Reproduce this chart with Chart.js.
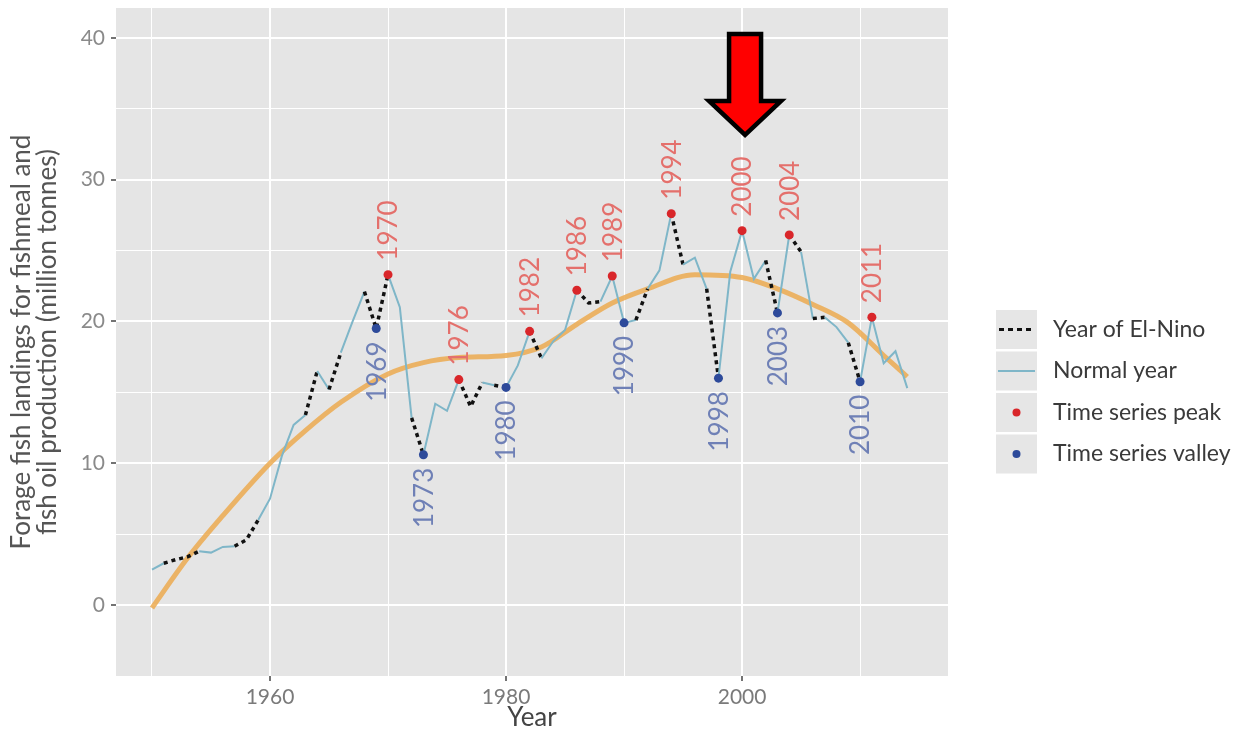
<!DOCTYPE html>
<html>
<head>
<meta charset="utf-8">
<script src="https://cdn.jsdelivr.net/npm/chart.js@4.4.1/dist/chart.umd.min.js"></script>
<style>
  html, body { margin: 0; padding: 0; background: #ffffff; }
  #wrap { width: 1244px; height: 733px; position: relative; }
</style>
</head>
<body>
<div id="wrap"><canvas id="c" width="1244" height="733"></canvas></div>
<script>
// Annual forage fish landings for fishmeal and fish oil (million tonnes)
const years = [
  1950, 1951, 1952, 1953, 1954, 1955, 1956, 1957, 1958, 1959,
  1960, 1961, 1962, 1963, 1964, 1965, 1966, 1967, 1968, 1969,
  1970, 1971, 1972, 1973, 1974, 1975, 1976, 1977, 1978, 1979,
  1980, 1981, 1982, 1983, 1984, 1985, 1986, 1987, 1988, 1989,
  1990, 1991, 1992, 1993, 1994, 1995, 1996, 1997, 1998, 1999,
  2000, 2001, 2002, 2003, 2004, 2005, 2006, 2007, 2008, 2009,
  2010, 2011, 2012, 2013, 2014
];
const landings = [
  2.5, 2.95, 3.2, 3.4, 3.8, 3.7, 4.1, 4.15, 4.6, 6.0,
  7.5, 10.5, 12.7, 13.4, 16.5, 15.2, 17.8, 20.0, 22.1, 19.5,
  23.3, 21.0, 13.2, 10.6, 14.2, 13.7, 15.9, 14.0, 15.7, 15.5,
  15.35, 16.9, 19.3, 17.4, 18.6, 19.4, 22.2, 21.3, 21.4, 23.2,
  19.9, 20.1, 22.3, 23.6, 27.6, 24.0, 24.5, 22.3, 16.0, 23.5,
  26.4, 23.0, 24.3, 20.6, 26.1, 24.9, 20.2, 20.3, 19.6, 18.5,
  15.75, 20.3, 17.05, 17.9, 15.3
];
// Years whose segment to the following year falls in an El-Nino episode
const elNinoStarts = [
  1951, 1952, 1953, 1957, 1958, 1963, 1965, 1968, 1969, 1972,
  1976, 1977, 1979, 1982, 1986, 1987, 1991, 1994, 1997, 2002,
  2004, 2006, 2009
];
const peakYears = [1970, 1976, 1982, 1986, 1989, 1994, 2000, 2004, 2011];
const valleyYears = [1969, 1973, 1980, 1990, 1998, 2003, 2010];

// Smoothed trend
const trendYears = [1950, 1953, 1956, 1960, 1963, 1966, 1970, 1973, 1976, 1980,
                    1983, 1986, 1989, 1992, 1996, 2000, 2003, 2006, 2009, 2012, 2014];
const trendValues = [-0.2, 3.3, 6.3, 10.0, 12.3, 14.3, 16.3, 17.1, 17.45, 17.6,
                     18.2, 19.8, 21.3, 22.3, 23.3, 23.1, 22.3, 21.2, 19.9, 17.6, 16.1];

// Axis breaks
const xMajorTicks = [1960, 1980, 2000];
const xMinorTicks = [1950, 1970, 1990, 2010];
const yMajorTicks = [0, 10, 20, 30, 40];
const yMinorTicks = [5, 15, 25, 35];

const legendLabels = ['Year of El-Nino', 'Normal year', 'Time series peak', 'Time series valley'];

const FONT = 'Lato, "DejaVu Sans", sans-serif';
const BLUE_LINE = '#7fb6c8';
const DOT_BLACK = '#111111';
const TREND = 'rgba(236, 170, 80, 0.85)';
const PEAK_DOT = '#d9262a';
const VALLEY_DOT = '#2d4a9a';
const PEAK_TEXT = '#e4706c';
const VALLEY_TEXT = '#6f80b6';
const PANEL = '#e5e5e5';

const seriesPoints = years.map((y, i) => ({ x: y, y: landings[i] }));
const valueOf = yr => landings[years.indexOf(yr)];
const peakPoints = peakYears.map(y => ({ x: y, y: valueOf(y) }));
const valleyPoints = valleyYears.map(y => ({ x: y, y: valueOf(y) }));
const trendPoints = trendYears.map((y, i) => ({ x: y, y: trendValues[i] }));
const isElNino = idx => elNinoStarts.includes(years[idx]);

const panelBg = {
  id: 'panelBg',
  beforeDraw(chart) {
    const { ctx, chartArea: a } = chart;
    ctx.save();
    ctx.fillStyle = PANEL;
    ctx.fillRect(a.left, a.top, a.right - a.left, a.bottom - a.top);
    ctx.restore();
  }
};

const yearLabels = {
  id: 'yearLabels',
  afterDatasetsDraw(chart) {
    const ctx = chart.ctx;
    ctx.save();
    ctx.font = '26px ' + FONT;
    ctx.textBaseline = 'middle';
    const draw = (dsIndex, list, color, above) => {
      const meta = chart.getDatasetMeta(dsIndex);
      meta.data.forEach((el, i) => {
        ctx.save();
        ctx.translate(el.x, above ? el.y - 14 : el.y + 13);
        ctx.rotate(-Math.PI / 2);
        ctx.fillStyle = color;
        ctx.textAlign = above ? 'left' : 'right';
        ctx.fillText(String(list[i]), 0, 1);
        ctx.restore();
      });
    };
    draw(0, peakYears, PEAK_TEXT, true);
    draw(1, valleyYears, VALLEY_TEXT, false);
    ctx.restore();
  }
};

const keyLegend = {
  id: 'keyLegend',
  afterDraw(chart) {
    const ctx = chart.ctx;
    const left = 996, keyW = 41, keyH = 39, top = 310, step = 41.5;
    ctx.save();
    legendLabels.forEach((txt, i) => {
      const y0 = top + i * step;
      const cy = y0 + keyH / 2;
      const cx = left + keyW / 2;
      ctx.fillStyle = '#e6e6e6';
      ctx.fillRect(left, y0, keyW, keyH);
      if (i === 0) {
        ctx.strokeStyle = DOT_BLACK;
        ctx.lineWidth = 3;
        ctx.setLineDash([5, 4]);
        ctx.beginPath(); ctx.moveTo(left + 3, cy); ctx.lineTo(left + keyW - 3, cy); ctx.stroke();
        ctx.setLineDash([]);
      } else if (i === 1) {
        ctx.strokeStyle = BLUE_LINE;
        ctx.lineWidth = 2;
        ctx.beginPath(); ctx.moveTo(left + 2, cy); ctx.lineTo(left + keyW - 2, cy); ctx.stroke();
      } else {
        ctx.fillStyle = i === 2 ? PEAK_DOT : VALLEY_DOT;
        ctx.beginPath(); ctx.arc(cx, cy, 4, 0, Math.PI * 2); ctx.fill();
      }
      ctx.fillStyle = '#3a3a3a';
      ctx.font = '23px ' + FONT;
      ctx.textAlign = 'left';
      ctx.textBaseline = 'middle';
      ctx.fillText(txt, 1053, cy);
    });
    ctx.restore();
  }
};

const pointerArrow = {
  id: 'pointerArrow',
  afterDraw(chart) {
    const ctx = chart.ctx;
    const cx = chart.scales.x.getPixelForValue(2000) + 3;
    ctx.save();
    ctx.beginPath();
    ctx.moveTo(cx - 16, 34);
    ctx.lineTo(cx + 16, 34);
    ctx.lineTo(cx + 16, 101);
    ctx.lineTo(cx + 36, 101);
    ctx.lineTo(cx, 135);
    ctx.lineTo(cx - 36, 101);
    ctx.lineTo(cx - 16, 101);
    ctx.closePath();
    ctx.fillStyle = '#ff0000';
    ctx.fill();
    ctx.lineWidth = 4.5;
    ctx.lineJoin = 'miter';
    ctx.strokeStyle = '#000000';
    ctx.stroke();
    ctx.restore();
  }
};

new Chart(document.getElementById('c'), {
  type: 'line',
  data: {
    datasets: [
      {
        label: 'Time series peak', type: 'scatter', data: peakPoints, order: 0,
        pointRadius: 4.5, pointBackgroundColor: PEAK_DOT, pointBorderWidth: 0, showLine: false
      },
      {
        label: 'Time series valley', type: 'scatter', data: valleyPoints, order: 0,
        pointRadius: 4.5, pointBackgroundColor: VALLEY_DOT, pointBorderWidth: 0, showLine: false
      },
      {
        label: 'Landings', data: seriesPoints, order: 1,
        borderColor: BLUE_LINE, borderWidth: 2, pointRadius: 0, tension: 0,
        borderCapStyle: 'butt',
        segment: {
          borderColor: c => isElNino(c.p0DataIndex) ? DOT_BLACK : BLUE_LINE,
          borderDash: c => isElNino(c.p0DataIndex) ? [4, 4] : [],
          borderWidth: c => isElNino(c.p0DataIndex) ? 3.5 : 2
        }
      },
      {
        label: 'Trend', data: trendPoints, order: 2,
        borderColor: TREND, borderWidth: 5, pointRadius: 0,
        cubicInterpolationMode: 'monotone'
      }
    ]
  },
  options: {
    responsive: false,
    animation: false,
    devicePixelRatio: 1,
    layout: { padding: { left: 0, top: 8, right: 296, bottom: 0 } },
    plugins: { legend: { display: false }, tooltip: { enabled: false } },
    scales: {
      x: {
        type: 'linear', min: 1946.95, max: 2017.45,
        afterBuildTicks: s => { s.ticks = [...xMinorTicks, ...xMajorTicks].sort((a, b) => a - b).map(v => ({ value: v })); },
        afterFit: s => { s.height = 57; s.paddingLeft = 0; s.paddingRight = 0; },
        ticks: {
          autoSkip: false, maxRotation: 0, padding: 4,
          color: '#7a7a7a', font: { family: FONT, size: 21 },
          callback: v => xMajorTicks.includes(v) ? String(v) : ''
        },
        grid: {
          color: '#ffffff',
          lineWidth: c => xMajorTicks.includes(c.tick.value) ? 2 : 1,
          tickColor: c => xMajorTicks.includes(c.tick.value) ? '#444444' : 'rgba(0,0,0,0)',
          tickLength: 5, tickWidth: 1.5
        },
        border: { display: false },
        title: { display: true, text: 'Year', color: '#444444', font: { family: FONT, size: 26 }, padding: { top: 0, bottom: 0 } }
      },
      y: {
        type: 'linear', min: -5, max: 42.1,
        afterBuildTicks: s => { s.ticks = [...yMinorTicks, ...yMajorTicks].sort((a, b) => a - b).map(v => ({ value: v })); },
        afterFit: s => { s.width = 116; s.paddingTop = 0; s.paddingBottom = 0; },
        ticks: {
          autoSkip: false, padding: 6,
          color: '#8a8a8a', font: { family: FONT, size: 21 },
          callback: v => yMajorTicks.includes(v) ? String(v) : ''
        },
        grid: {
          color: '#ffffff',
          lineWidth: c => yMajorTicks.includes(c.tick.value) ? 2 : 1,
          tickColor: c => yMajorTicks.includes(c.tick.value) ? '#444444' : 'rgba(0,0,0,0)',
          tickLength: 5, tickWidth: 1.5
        },
        border: { display: false },
        title: {
          display: true,
          text: ['Forage fish landings for fishmeal and', 'fish oil production (million tonnes)'],
          color: '#555555', font: { family: FONT, size: 26, lineHeight: 0.98 }, padding: { top: 9, bottom: 0 }
        }
      }
    }
  },
  plugins: [panelBg, yearLabels, keyLegend, pointerArrow]
});
</script>
</body>
</html>
